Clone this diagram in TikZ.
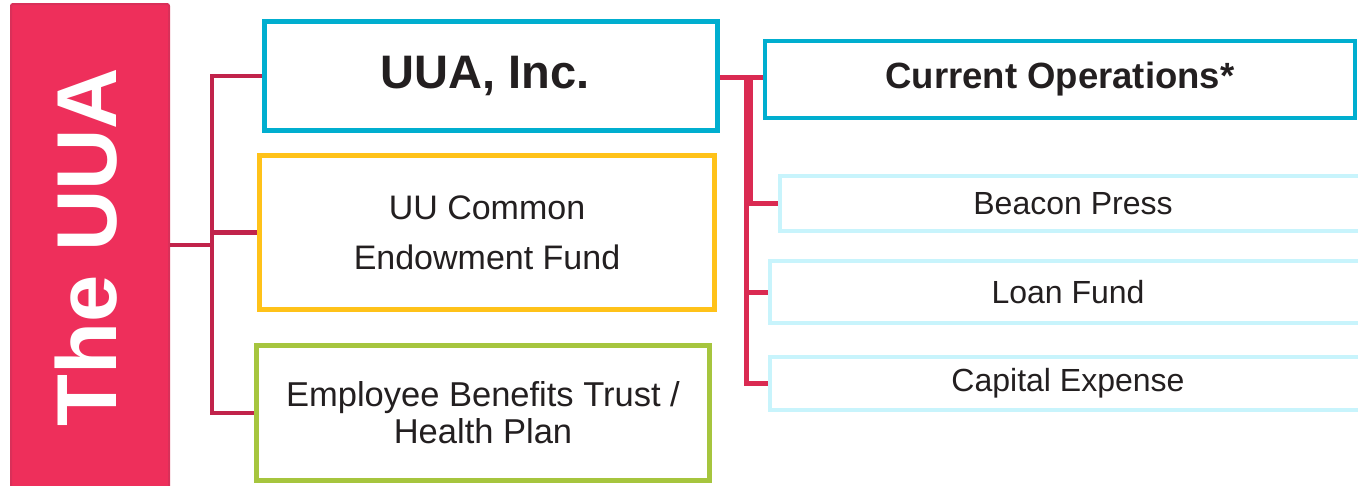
\documentclass[tikz,border=0pt]{standalone}
\usepackage{fontspec}
\setmainfont{Liberation Sans}
\usepackage{xcolor}
\usepackage{tikz}
\usetikzlibrary{positioning,calc}

\definecolor{uuared}{HTML}{EE2F5B}
\definecolor{uuaredline}{HTML}{D93059}
\definecolor{linkdark}{HTML}{C1234B}
\definecolor{linkpink}{HTML}{DA2A52}
\definecolor{cyanbox}{HTML}{00AECF}
\definecolor{yellowbox}{HTML}{FFC219}
\definecolor{greenbox}{HTML}{A6C53E}
\definecolor{paleblue}{HTML}{C8F4FC}
\definecolor{inktext}{HTML}{231F20}

\begin{document}
\begin{tikzpicture}[x=1pt, y=-1pt,
    box/.style={draw, line width=5pt, fill=white, text=inktext, align=center, inner sep=0pt},
    subbox/.style={draw=paleblue, line width=4pt, fill=white, text=inktext, inner sep=0pt,
        font=\fontsize{32}{36}\selectfont},
    link/.style={draw=linkdark, line width=4.5pt},
    sublink/.style={draw=linkpink, line width=5pt}]
    \clip (0,0) rectangle (1358,485);
    \fill [white] (0,0) rectangle (1358,485);

    % The UUA
    \node (uua) [rotate=90, draw=uuaredline, line width=2pt, fill=uuared, rounded corners=2pt,
        minimum width=486pt, minimum height=158pt, text=white, text depth=9pt,
        font=\fontsize{85}{90}\selectfont\bfseries] at (90,247) {The UUA};

    % Entities
    \node (inc) [box, draw=cyanbox, minimum width=453pt, minimum height=109pt,
        font=\fontsize{47}{52}\selectfont\bfseries] at (491,76) {UUA, Inc.\hspace*{12pt}};
    \node (fund) [box, draw=yellowbox, minimum width=455pt, minimum height=154pt,
        font=\fontsize{34}{50}\selectfont] at (487,232.5) {UU Common\\Endowment Fund};
    \node (trust) [box, draw=greenbox, minimum width=453pt, minimum height=135pt,
        font=\fontsize{34.5}{37}\selectfont] at (483,413) {Employee Benefits Trust /\\Health Plan};

    % Current operations
    \node (ops) [box, draw=cyanbox, line width=4pt, minimum width=590pt, minimum height=77pt,
        font=\fontsize{36.5}{40}\selectfont\bfseries] at (1060,79) {Current Operations*};
    \node (beacon) [subbox, minimum width=586pt, minimum height=55pt] at (1073,203.5) {Beacon Press};
    \node (loan) [subbox, minimum width=596pt, minimum height=62pt] at (1068,292) {Loan Fund};
    \node (capital) [subbox, minimum width=596pt, minimum height=53pt] at (1068,383.5) {Capital Expense};

    % Links from The UUA
    \coordinate (hub) at (212,245);
    \draw [link] (uua.south |- hub) -- (hub);
    \draw [link] (hub) |- (inc.west);
    \draw [link] (hub) |- (fund.west);
    \draw [link] (hub) |- (trust.west);

    % Links from UUA, Inc.
    \coordinate (opshub) at (746,77);
    \draw [sublink] (inc.east |- opshub) -- (opshub);
    \draw [sublink] (opshub) -- (opshub -| ops.west);
    \draw [sublink] ([xshift=4pt]opshub) |- (beacon.west);
    \draw [sublink] (opshub) |- (loan.west);
    \draw [sublink] (opshub) |- (capital.west);
\end{tikzpicture}
\end{document}
